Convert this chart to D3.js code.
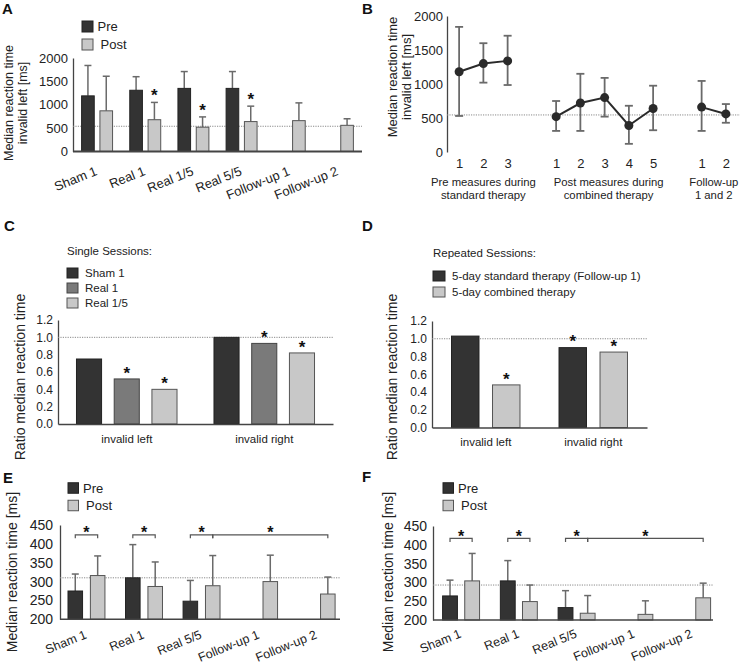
<!DOCTYPE html>
<html><head><meta charset="utf-8">
<script src="https://cdn.jsdelivr.net/npm/d3@7"></script>
<style>body{margin:0;background:#fff} svg{display:block;font-family:"Liberation Sans",Arial,Helvetica,sans-serif}</style>
</head><body><svg id="c" width="741" height="665"></svg>
<script>
// ---------- DATA ----------
// Panel A
const catsA = ["Sham 1","Real 1","Real 1/5","Real 5/5","Follow-up 1","Follow-up 2"];
const preA = [1190,1310,1350,1350,null,null];
const preHiA = [1840,1600,1710,1710,null,null];
const postA = [870,680,520,640,660,560];
const postHiA = [1610,1050,740,970,1040,700];
const starA = [0,1,1,1,0,0];
const refA = 540;
const ticksA = [0,500,1000,1500,2000];
// Panel B
const groupLabelsB = [["Pre measures during","standard therapy"],["Post measures during","combined therapy"],["Follow-up","1 and 2"]];
const sessB = [["1","2","3"],["1","2","3","4","5"],["1","2"]];
const medB = [[1180,1300,1340],[520,720,800,390,640],[660,560]];
const loB = [[530,1020,985],[310,310,520,120,320],[310,430]];
const hiB = [[1840,1600,1710],[750,1150,1090,680,975],[1045,705]];
const refB = 545;
const ticksB = [0,500,1000,1500,2000];
// Panel C
const groupsC = ["invalid left","invalid right"];
const seriesC = ["Sham 1","Real 1","Real 1/5"];
const valsC = [[0.75,1.00],[0.52,0.93],[0.40,0.82]];
const starC = [[0,0],[1,1],[1,1]];
const ticksC = [0,0.2,0.4,0.6,0.8,1.0,1.2];
// Panel D
const groupsD = ["invalid left","invalid right"];
const seriesD = ["5-day standard therapy (Follow-up 1)","5-day combined therapy"];
const valsD = [[1.03,0.90],[0.48,0.85]];
const starD = [[0,1],[1,1]];
// Panel E
const catsE = ["Sham 1","Real 1","Real 5/5","Follow-up 1","Follow-up 2"];
const preE = [275,310,248,null,null];
const preHiE = [320,398,303,null,null];
const postE = [316,287,289,300,267];
const postHiE = [368,352,369,370,312];
const refE = 310;
const ticksE = [200,250,300,350,400,450];
// Panel F
const preF = [264,304,233,null,null];
const preHiF = [306,358,278,null,null];
const postF = [304,249,218,215,259];
const postHiF = [377,293,265,251,298];
const refF = 293;
// significance brackets: [category, series] -> [category, series]
const bracketsEF = [[["Sham 1","pre"],["Sham 1","post"]],[["Real 1","pre"],["Real 1","post"]],[["Real 5/5","pre"],["Real 5/5","post"]],[["Real 5/5","post"],["Follow-up 2","post"]]];

// ---------- STYLE ----------
const DARK="#333333", LIGHT="#c8c8c8", MID="#7a7a7a", ERR="#6a6a6a", AXIS="#444";
const svg = d3.select("#c");
svg.append("rect").attr("width",741).attr("height",665).attr("fill","#fff");

function letter(t,x,y){ svg.append("text").attr("x",x).attr("y",y).attr("font-size",15).attr("font-weight","bold").attr("fill","#111").text(t); }
function ylab(lines,x0,y,fs,gap){
  lines.forEach((l,i)=>svg.append("text").attr("transform",`translate(${x0+i*gap},${y}) rotate(-90)`)
    .attr("text-anchor","middle").attr("font-size",fs).attr("fill","#222").text(l));
}
function yAxis(y,x,ticks,fmt,fs,pad){
  const a = svg.append("g").attr("transform",`translate(${x},0)`)
    .call(d3.axisLeft(y).tickValues(ticks).tickSize(0).tickPadding(pad).tickFormat(fmt));
  a.attr("font-family",null).attr("font-size",fs);
  a.select(".domain").attr("stroke",AXIS).attr("stroke-width",1.3);
  a.selectAll("text").attr("fill","#222");
  return a;
}
function refLine(x1,x2,yv){
  svg.append("line").attr("x1",x1).attr("x2",x2).attr("y1",yv).attr("y2",yv)
    .attr("stroke","#8a8a8a").attr("stroke-width",1).attr("stroke-dasharray","1.2,1.2");
}
function star(x,cy,fs){
  svg.append("text").attr("x",x).attr("y",cy+0.58*fs).attr("text-anchor","middle")
    .attr("font-size",fs).attr("font-weight","bold").attr("fill","#111").text("*");
}
function errUp(x,y1,y2,cap){
  svg.append("line").attr("x1",x).attr("x2",x).attr("y1",y1).attr("y2",y2).attr("stroke",ERR).attr("stroke-width",1.5);
  svg.append("line").attr("x1",x-cap/2).attr("x2",x+cap/2).attr("y1",y2).attr("y2",y2).attr("stroke",ERR).attr("stroke-width",1.5);
}
function legendItem(x,yc,w,h,fill,stroke,label,tx,fs){
  svg.append("rect").attr("x",x).attr("y",yc-h/2).attr("width",w).attr("height",h).attr("fill",fill).attr("stroke",stroke).attr("stroke-width",1);
  svg.append("text").attr("x",tx).attr("y",yc).attr("dy","0.35em").attr("font-size",fs).attr("fill","#222").text(label);
}

// ---------- Pre/Post bar panel (A, E, F) ----------
function prePostPanel(o){
  const x0 = d3.scaleBand(o.cats,o.xr);
  const x1 = d3.scaleBand(["pre","post"],[0,x0.bandwidth()]).paddingInner(o.pi).paddingOuter(o.po);
  const y = d3.scaleLinear(o.dom,o.yr);
  yAxis(y,o.yAxisX,o.ticks,d3.format("d"),o.tfs,o.tpad);
  refLine(o.yAxisX,o.xEnd,y(o.ref));
  const series = [["pre",o.pre,o.preHi,DARK,"#222"],["post",o.post,o.postHi,LIGHT,"#555"]];
  series.forEach(([k,vals,his,fill,stroke])=>{
    o.cats.forEach((c,i)=>{
      if(vals[i]==null) return;
      const bx = x0(c)+x1(k), cx = bx+x1.bandwidth()/2;
      errUp(cx,y(vals[i]),y(his[i]),o.cap);
      svg.append("rect").attr("x",bx).attr("y",y(vals[i])).attr("width",x1.bandwidth())
        .attr("height",y(o.dom[0])-y(vals[i])).attr("fill",fill).attr("stroke",stroke).attr("stroke-width",1);
    });
  });
  // x axis
  const ax = svg.append("g").attr("transform",`translate(0,${o.yr[0]})`)
    .call(d3.axisBottom(x0).tickSize(0).tickPadding(0));
  ax.attr("font-family",null).attr("font-size",o.xfs);
  ax.select(".domain").remove();
  ax.selectAll("text").attr("fill","#222").attr("y",null).attr("dy",null).attr("text-anchor","end")
    .attr("transform",`translate(${o.lx},${o.ly}) rotate(-22)`);
  svg.append("line").attr("x1",o.yAxisX).attr("x2",o.xEnd).attr("y1",o.yr[0]).attr("y2",o.yr[0])
    .attr("stroke",AXIS).attr("stroke-width",o.bw);
  // stars over error bars
  if(o.stars) o.cats.forEach((c,i)=>{ if(o.stars[i]){ star(x0(c)+x1("post")+x1.bandwidth()/2, y(o.postHi[i])-11, 17); }});
  // brackets
  if(o.brackets){
    const by = y(o.bracketLevel);
    o.brackets.forEach(([a,b])=>{
      const xa = x0(a[0])+x1(a[1])+x1.bandwidth()/2, xb = x0(b[0])+x1(b[1])+x1.bandwidth()/2;
      svg.append("path").attr("d",`M${xa},${by+3.5}V${by}H${xb}V${by+3.5}`).attr("fill","none").attr("stroke","#555").attr("stroke-width",1.2);
      star((xa+xb)/2, by-6, 16);
    });
  }
  // legend
  legendItem(o.lgX,o.lgY[0],o.lgS,o.lgS,DARK,"#222","Pre",o.lgX+o.lgS+4.5,13);
  legendItem(o.lgX,o.lgY[1],o.lgS,o.lgS,LIGHT,"#555","Post",o.lgX+o.lgS+7.5,13);
}

// ---------- Panel A ----------
letter("A",2,14);
prePostPanel({cats:catsA,pre:preA,preHi:preHiA,post:postA,postHi:postHiA,ref:refA,ticks:ticksA,
  xr:[73,362],pi:0.31,po:0.47,dom:[0,2000],yr:[151.5,58],yAxisX:73,xEnd:362,tfs:13,tpad:5,cap:7,xfs:13,
  lx:1,ly:23,bw:2,stars:starA,lgX:82,lgY:[26.5,44.5],lgS:11});
ylab(["Median reaction time","invalid left [ms]"],13,103,12.5,14);

// ---------- Panel B ----------
letter("B",362,14);
const keysB = [];
sessB.forEach((s,si)=>{ s.forEach((_,j)=>keysB.push(si+"-"+j)); if(si<sessB.length-1) keysB.push("gap"+si); });
const xPB = d3.scalePoint(keysB,[447,738]).padding(0.5);
const yB = d3.scaleLinear([0,2000],[152,16]);
yAxis(yB,447,ticksB,d3.format("d"),13,4);
refLine(447,740,yB(refB));
const ptKeys = keysB.filter(k=>!k.startsWith("gap"));
const axB = svg.append("g").attr("transform","translate(0,152)")
  .call(d3.axisBottom(xPB).tickValues(ptKeys).tickSize(0).tickPadding(6.5).tickFormat(k=>{const [a,b]=k.split("-");return sessB[+a][+b];}));
axB.attr("font-family",null).attr("font-size",13);
axB.select(".domain").remove();
axB.selectAll("text").attr("fill","#222");
medB.forEach((seg,si)=>{
  const pts = seg.map((v,j)=>({x:xPB(si+"-"+j),m:v,lo:loB[si][j],hi:hiB[si][j]}));
  pts.forEach(p=>{
    svg.append("line").attr("x1",p.x).attr("x2",p.x).attr("y1",yB(p.lo)).attr("y2",yB(p.hi)).attr("stroke",ERR).attr("stroke-width",1.8);
    [p.lo,p.hi].forEach(v=>svg.append("line").attr("x1",p.x-4).attr("x2",p.x+4).attr("y1",yB(v)).attr("y2",yB(v)).attr("stroke",ERR).attr("stroke-width",1.8));
  });
  svg.append("path").datum(pts).attr("d",d3.line().x(p=>p.x).y(p=>yB(p.m))).attr("fill","none").attr("stroke","#2a2a2a").attr("stroke-width",2);
  pts.forEach(p=>svg.append("circle").attr("cx",p.x).attr("cy",yB(p.m)).attr("r",4.5).attr("fill","#2a2a2a"));
  const cx = (pts[0].x+pts[pts.length-1].x)/2 + (si===1?4:0);
  groupLabelsB[si].forEach((l,li)=>svg.append("text").attr("x",cx).attr("y",185.5+li*13).attr("text-anchor","middle").attr("font-size",11.3).attr("fill","#222").text(l));
});
ylab(["Median reaction time","invalid left [ms]"],397,77,13,14);

// ---------- Ratio panels (C, D) ----------
function ratioPanel(o){
  const x0 = d3.scaleBand(o.groups,o.xr);
  const x1 = d3.scaleBand(o.series,[0,x0.bandwidth()]).paddingInner(o.pi).paddingOuter(o.po);
  const y = d3.scaleLinear([0,1.2],o.yr);
  yAxis(y,o.xr[0],ticksC,d3.format(".1f"),12,5);
  refLine(o.xr[0],o.xr[1],y(1.0));
  o.series.forEach((s,si)=>{
    o.groups.forEach((g,gi)=>{
      const v = o.vals[si][gi], bx = x0(g)+x1(s);
      svg.append("rect").attr("x",bx).attr("y",y(v)).attr("width",x1.bandwidth()).attr("height",y(0)-y(v))
        .attr("fill",o.fills[si]).attr("stroke",o.strokes[si]).attr("stroke-width",1);
      if(o.stars[si][gi]) star(bx+x1.bandwidth()/2, y(v)-10, 17);
    });
  });
  const ax = svg.append("g").attr("transform",`translate(0,${o.yr[0]})`).call(d3.axisBottom(x0).tickSize(0).tickPadding(10.5));
  ax.attr("font-family",null).attr("font-size",11.5);
  ax.select(".domain").attr("stroke",AXIS).attr("stroke-width",1.5);
  ax.selectAll("text").attr("fill","#222");
  svg.append("text").attr("x",o.lgX).attr("y",o.titleY).attr("dy","0.35em").attr("font-size",11.5).attr("fill","#222").text(o.title);
  o.series.forEach((s,si)=>legendItem(o.lgX,o.lgY[si],o.lgW,10,o.fills[si],o.strokes[si],s,o.lgTX,11.5));
}
letter("C",4,231);
ratioPanel({groups:groupsC,series:seriesC,vals:valsC,stars:starC,xr:[58,333],yr:[424,320],pi:0.335,po:0.49,
  fills:[DARK,MID,LIGHT],strokes:["#222","#444","#555"],title:"Single Sessions:",titleY:251,lgX:67,lgY:[273,288,303],lgW:11,lgTX:85});
ylab(["Ratio median reaction time"],25,377,14,0);
letter("D",362,231);
ratioPanel({groups:groupsD,series:seriesD,vals:valsD,stars:starD,xr:[432,647],yr:[427.5,321],pi:0.33,po:0.476,
  fills:[DARK,LIGHT],strokes:["#222","#555"],title:"Repeated Sessions:",titleY:253,lgX:433,lgY:[276,292],lgW:12,lgTX:452});
ylab(["Ratio median reaction time"],397,377,14,0);

// ---------- Panel E ----------
letter("E",3,483);
prePostPanel({cats:catsE,pre:preE,preHi:preHiE,post:postE,postHi:postHiE,ref:refE,ticks:ticksE,
  xr:[57.7,345.4],pi:0.35,po:0.46,dom:[200,450],yr:[619.3,525],yAxisX:60,xEnd:340,tfs:14,tpad:7,cap:7,xfs:12.5,
  lx:1,ly:18.5,bw:1.6,brackets:bracketsEF,bracketLevel:424,lgX:68,lgY:[488,505.5],lgS:10.5});
ylab(["Median reaction time [ms]"],17,572,14,0);

// ---------- Panel F ----------
letter("F",362,482);
prePostPanel({cats:catsE,pre:preF,preHi:preHiF,post:postF,postHi:postHiF,ref:refF,ticks:ticksE,
  xr:[432.2,721],pi:0.33,po:0.47,dom:[200,450],yr:[620,526],yAxisX:433,xEnd:713,tfs:14,tpad:6,cap:7,xfs:12.5,
  lx:1,ly:17,bw:1.6,brackets:bracketsEF,bracketLevel:417,lgX:443,lgY:[488,505.5],lgS:10.5});
ylab(["Median reaction time [ms]"],393,572,14,0);
</script></body></html>
